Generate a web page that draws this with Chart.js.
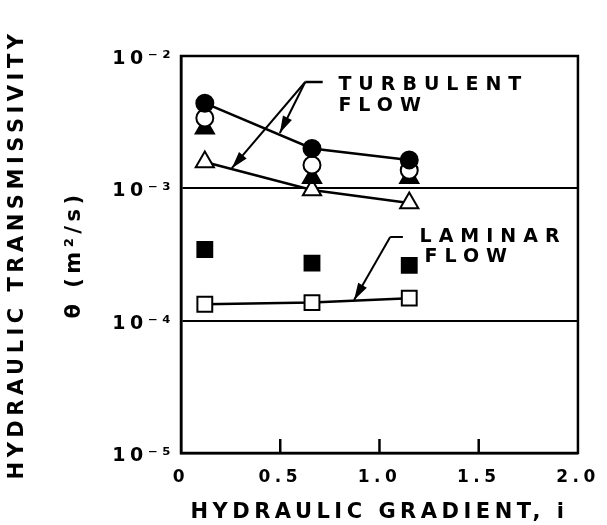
<!DOCTYPE html>
<html>
<head>
<meta charset="utf-8">
<script src="https://cdn.jsdelivr.net/npm/chart.js@4/dist/chart.umd.min.js"></script>
<style>
    html, body { margin: 0; padding: 0; background: #fff; }
</style>
</head>
<body>
<canvas id="chart" width="607" height="525"></canvas>
<script>
// hydraulic gradient i of the three test runs
const gradients = [0.12, 0.66, 1.15];

// transmissivity θ (m²/s), one array per marker type
const filledCircles = [4.4e-3, 2.0e-3, 1.64e-3];
const openCircles = [3.4e-3, 1.5e-3, 1.37e-3];
const filledTriangles = [2.85e-3, 1.2e-3, 1.2e-3];
const openTriangles = [1.58e-3, 9.7e-4, 7.75e-4];
const filledSquares = [3.45e-4, 2.72e-4, 2.62e-4];
const openSquares = [1.33e-4, 1.37e-4, 1.48e-4];

const xTickLabels = ["0", "0.5", "1.0", "1.5", "2.0"];
const yTickValues = [1e-5, 1e-4, 1e-3, 1e-2];
const yTickLabels = ["10⁻⁵", "10⁻⁴", "10⁻³", "10⁻²"];

const FONT = "'DejaVu Sans', sans-serif";

const toPoints = ys => ys.map((y, i) => ({ x: gradients[i], y }));

// one scatter dataset, black markers, optional connecting line
const series = (label, values, style, filled, line) => ({
    label,
    data: toPoints(values),
    pointStyle: style,
    pointRadius: style === "circle" ? 8.5 : 10.5,
    pointBackgroundColor: filled ? "#000" : "#fff",
    pointBorderColor: "#000",
    pointBorderWidth: 2,
    showLine: line,
    borderColor: "#000",
    borderWidth: 2.5
});

// wide hand-lettered look for all the axis text
const spacing = {
    id: "spacing",
    beforeDraw(chart) {
        chart.ctx.letterSpacing = "4.5px";
    }
};

// frame, inner x ticks and the two flow-regime notes with arrows
const notes = {
    id: "notes",
    afterDraw(chart) {
        const { ctx, chartArea: a, scales: { x, y } } = chart;
        const px = v => x.getPixelForValue(v);
        const py = v => y.getPixelForValue(v);

        ctx.save();
        ctx.strokeStyle = "#000";
        ctx.fillStyle = "#000";
        ctx.lineWidth = 2.5;
        ctx.strokeRect(a.left, a.top, a.right - a.left, a.bottom - a.top);

        [0.5, 1.0, 1.5].forEach(v => {
            ctx.beginPath();
            ctx.moveTo(px(v), a.bottom);
            ctx.lineTo(px(v), a.bottom - 14);
            ctx.stroke();
        });

        const arrow = (x0, y0, x1, y1) => {
            const sx = px(x0), sy = py(y0), ex = px(x1), ey = py(y1);
            const ang = Math.atan2(ey - sy, ex - sx);
            ctx.lineWidth = 2;
            ctx.beginPath();
            ctx.moveTo(sx, sy);
            ctx.lineTo(ex, ey);
            ctx.stroke();
            ctx.beginPath();
            ctx.moveTo(ex, ey);
            ctx.lineTo(ex - 17 * Math.cos(ang) + 5 * Math.sin(ang), ey - 17 * Math.sin(ang) - 5 * Math.cos(ang));
            ctx.lineTo(ex - 17 * Math.cos(ang) - 5 * Math.sin(ang), ey - 17 * Math.sin(ang) + 5 * Math.cos(ang));
            ctx.closePath();
            ctx.fill();
        };
        const dash = (x0, x1, yv) => {
            ctx.beginPath();
            ctx.moveTo(px(x0), py(yv));
            ctx.lineTo(px(x1), py(yv));
            ctx.stroke();
        };

        dash(0.626, 0.714, 6.36e-3);
        arrow(0.626, 6.36e-3, 0.498, 2.62e-3);
        arrow(0.626, 6.36e-3, 0.256, 1.42e-3);

        dash(1.054, 1.118, 4.29e-4);
        arrow(1.054, 4.29e-4, 0.872, 1.43e-4);

        ctx.font = "bold 19px " + FONT;
        ctx.letterSpacing = "7px";
        ctx.textAlign = "left";
        ctx.textBaseline = "middle";
        ctx.fillText("TURBULENT", px(0.793), py(6.04e-3));
        ctx.fillText("FLOW", px(0.793), py(4.19e-3));
        ctx.fillText("LAMINAR", px(1.202), py(4.29e-4));
        ctx.fillText("FLOW", px(1.227), py(3.03e-4));
        ctx.restore();
    }
};

new Chart(document.getElementById("chart"), {
    type: "scatter",
    data: {
        datasets: [
            series("filled circles", filledCircles, "circle", true, true),
            series("open circles", openCircles, "circle", false, false),
            series("filled triangles", filledTriangles, "triangle", true, false),
            series("open triangles", openTriangles, "triangle", false, true),
            series("filled squares", filledSquares, "rect", true, false),
            series("open squares", openSquares, "rect", false, true)
        ]
    },
    options: {
        responsive: false,
        animation: false,
        layout: { padding: { top: 56, right: 21, bottom: 0, left: 0 } },
        plugins: { legend: { display: false }, tooltip: { enabled: false } },
        scales: {
            x: {
                type: "linear",
                min: 0,
                max: 2,
                afterFit: s => { s.height = 72; },
                afterBuildTicks: s => { s.ticks = [0, 0.5, 1, 1.5, 2].map(v => ({ value: v })); },
                ticks: {
                    color: "#000",
                    padding: 14,
                    font: { family: FONT, size: 17, weight: "bold" },
                    callback: (v, i) => xTickLabels[i]
                },
                grid: { drawOnChartArea: false, drawTicks: false },
                border: { color: "#000", width: 2.5 },
                title: {
                    display: true,
                    text: "HYDRAULIC GRADIENT, i",
                    color: "#000",
                    font: { family: FONT, size: 21, weight: "bold" },
                    padding: { top: 0, bottom: 0 }
                }
            },
            y: {
                type: "logarithmic",
                min: 1e-5,
                max: 1e-2,
                afterFit: s => { s.width = 181; },
                afterBuildTicks: s => { s.ticks = yTickValues.map(v => ({ value: v })); },
                ticks: {
                    color: "#000",
                    padding: 6,
                    labelOffset: 3,
                    font: { family: FONT, size: 19, weight: "bold" },
                    callback: (v, i) => yTickLabels[i]
                },
                grid: { color: "#000", lineWidth: 2, drawTicks: false },
                border: { color: "#000", width: 2.5 },
                title: {
                    display: true,
                    text: ["HYDRAULIC TRANSMISSIVITY", "θ (m²/s)"],
                    color: "#000",
                    font: { family: FONT, size: 21, weight: "bold", lineHeight: 2.7 },
                    padding: { top: -10.5, bottom: 0 }
                }
            }
        }
    },
    plugins: [spacing, notes]
});
</script>
</body>
</html>
